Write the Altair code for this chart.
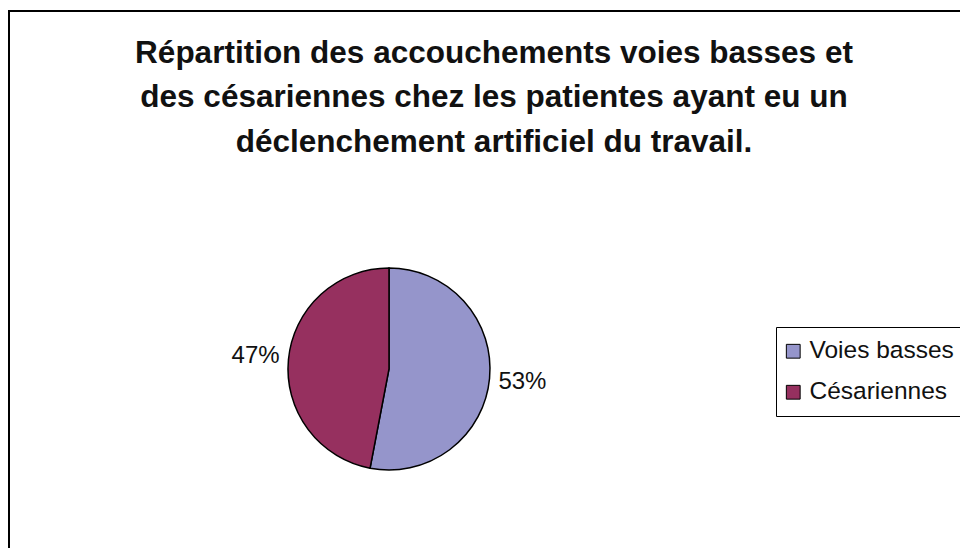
import altair as alt
import pandas as pd

categories = ["Voies basses", "Césariennes"]
values = [53, 47]
labels = ["53%", "47%"]
colors = ["#9595CB", "#96305F"]
title_lines = [
    "Répartition des accouchements voies basses et",
    "des césariennes chez les patientes ayant eu un",
    "déclenchement artificiel du travail.",
]

df = pd.DataFrame({"cat": categories, "val": values, "label": labels, "ord": [0, 1]})
frame_df = pd.DataFrame({"f": [0]})

FONT = "Liberation Sans"

base = alt.Chart(df).encode(
    theta=alt.Theta("val:Q", stack=True),
    order=alt.Order("ord:Q"),
    x=alt.value(381),
    y=alt.value(359),
)

pie = base.mark_arc(outerRadius=101, stroke="black", strokeWidth=1.5).encode(
    color=alt.Color(
        "cat:N",
        scale=alt.Scale(domain=categories, range=colors),
        legend=alt.Legend(
            title=None,
            orient="none",
            legendX=768,
            legendY=317,
            strokeColor="black",
            padding=12,
            rowPadding=16,
            symbolType="square",
            symbolSize=190,
            symbolOffset=-7,
            symbolStrokeColor="black",
            symbolStrokeWidth=1,
            labelFontSize=24.5,
            labelFont=FONT,
            labelColor="#111111",
            labelOffset=4,
        ),
    )
)

text = base.mark_text(radius=134, fontSize=24, font=FONT, color="#111111").encode(
    text="label:N"
)

frame = alt.Chart(frame_df).mark_rect(
    fill="transparent", stroke="black", strokeWidth=2
).encode(
    x=alt.value(1),
    y=alt.value(1),
    x2=alt.value(2000),
    y2=alt.value(2000),
)

chart = (
    alt.layer(frame, pie, text)
    .properties(
        width=952,
        height=538,
        autosize=alt.AutoSizeParams(type="none"),
        padding={"left": 0, "top": 2, "right": 0, "bottom": 0},
        title=alt.TitleParams(
            text=title_lines,
            fontSize=31.5,
            fontWeight="bold",
            font=FONT,
            color="#111111",
            anchor="middle",
            baseline="alphabetic",
            lineHeight=44.5,
            offset=0,
            dy=173,
            dx=10,
        ),
    )
    .configure_view(stroke=None)
)

chart.save("out.html", embed_options={"renderer": "svg", "actions": False})
